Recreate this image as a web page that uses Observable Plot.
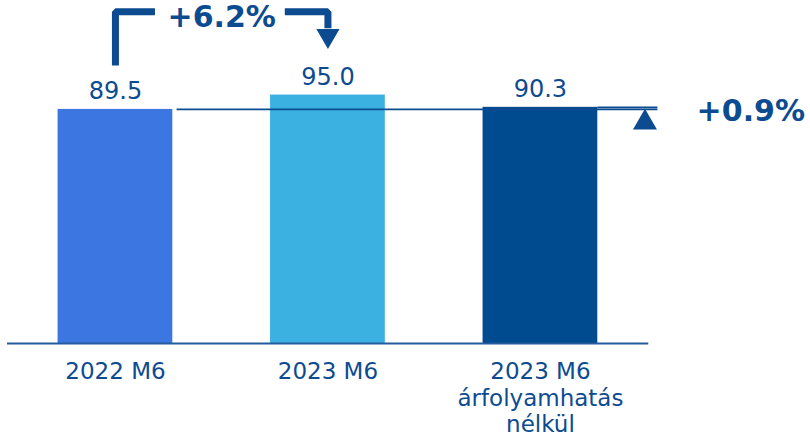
<!DOCTYPE html>
<html>
<head>
<meta charset="utf-8">
<script src="https://cdn.jsdelivr.net/npm/d3@7"></script>
<script src="https://cdn.jsdelivr.net/npm/@observablehq/plot@0.6"></script>
<style>
  html, body { margin: 0; padding: 0; background: #fff; }
  #chart svg { display: block; }
</style>
</head>
<body>
<div id="chart"></div>
<script>
const categories = ["2022 M6", "2023 M6", "2023 M6\nárfolyamhatás\nnélkül"];
const values = [89.5, 95.0, 90.3];
const barColors = ["#3b76e1", "#3bb1e2", "#004b8f"];
const changeLabels = ["+6.2%", "+0.9%"];

const textColor = "#0d4b91";
const data = categories.map((c, i) => ({ i, c, v: values[i], color: barColors[i] }));
const hw = 0.27; // half bar width in x units

// bracket from bar 1 to bar 2 (x in category units, y in value units)
const topY = 126.8;
const bracketLeft = [
  { x: 0, y: values[0] + 16.8 },
  { x: 0, y: topY },
  { x: 0.186, y: topY }
];
const bracketRight = [
  { x: 0.797, y: topY },
  { x: 1, y: topY },
  { x: 1, y: 120.5 }
];

const chart = Plot.plot({
  width: 810,
  height: 440,
  marginLeft: 7,
  marginRight: 0,
  marginTop: 3,
  marginBottom: 97,
  x: { type: "linear", domain: [-0.508, 3.271], axis: null },
  y: { domain: [0, 130], axis: null },
  color: { type: "identity" },
  style: { fontFamily: "'DejaVu Sans', Verdana, sans-serif", color: textColor, background: "#fff" },
  marks: [
    Plot.rectY(data, { x1: d => d.i - hw, x2: d => d.i + hw, y1: 0, y2: "v", fill: "color" }),
    // reference line at 2022 level
    Plot.ruleY([values[0]], { x1: hw + 0.02, x2: 2.553, stroke: textColor, strokeWidth: 1.6 }),
    Plot.ruleY([values[2]], { x1: 2 + hw, x2: 2.553, stroke: textColor, strokeWidth: 1.6 }),
    // baseline axis
    Plot.ruleY([0], { x1: -0.508, x2: 2.51, stroke: "#245c9c", strokeWidth: 2 }),
    // value labels
    Plot.text(data, { x: "i", y: "v", text: d => d.v.toFixed(1), lineAnchor: "bottom", dy: -10, fontSize: 24, fill: textColor }),
    // category labels
    Plot.axisX({ ticks: [0, 1, 2], tickFormat: i => categories[i], tickSize: 0, tickPadding: 16, fontSize: 23, lineHeight: 1.17, color: textColor }),
    // bracket +6.2%
    Plot.line(bracketLeft, { x: "x", y: "y", stroke: textColor, strokeWidth: 7, strokeLinejoin: "miter", strokeLinecap: "butt" }),
    Plot.line(bracketRight, { x: "x", y: "y", stroke: textColor, strokeWidth: 7, strokeLinejoin: "miter", strokeLinecap: "butt" }),
    Plot.dot([{ x: 1, y: 117.7 }], { x: "x", y: "y", symbol: "triangle", r: 8.6, rotate: 180, fill: textColor, stroke: "none" }),
    Plot.text([changeLabels[0]], { x: 0.5, y: 124.5, text: d => d, fontSize: 30, fontWeight: "bold", fill: textColor }),
    // +0.9% marker
    Plot.dot([{ x: 2.492, y: 84.5 }], { x: "x", y: "y", symbol: "triangle", r: 8.9, fill: textColor, stroke: "none" }),
    Plot.text([changeLabels[1]], { x: 2.99, y: 88.9, text: d => d, fontSize: 30, fontWeight: "bold", fill: textColor })
  ]
});
document.getElementById("chart").appendChild(chart);
</script>
</body>
</html>
